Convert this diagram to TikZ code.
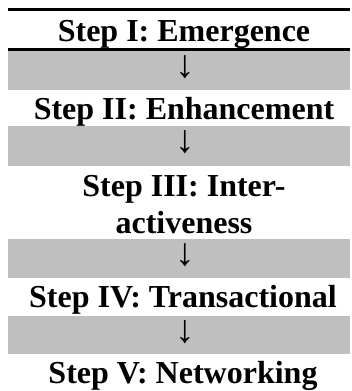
\documentclass[tikz,border=0pt]{standalone}
\usepackage{fontspec}
\setmainfont{Liberation Serif}
\definecolor{bandgray}{HTML}{BFBFBF}
\begin{document}
\begin{tikzpicture}[x=1pt,y=-1pt,
  band/.style={fill=bandgray,draw=none},
  rulebar/.style={fill=black,draw=none},
  steplabel/.style={anchor=base,inner sep=0pt,font=\fontsize{32}{37}\selectfont\bfseries},
  arrowlabel/.style={anchor=base,inner sep=0pt,text height=23pt,text depth=2pt,font=\fontsize{39}{44}\selectfont}]
\useasboundingbox (0,0) rectangle (351,391);
% rules and bands
\fill[rulebar] (8,8) rectangle (350,11);
\fill[rulebar] (8,48) rectangle (350,51);
\fill[band] (8,51) rectangle (350,90);
\fill[band] (8,126) rectangle (350,166);
\fill[band] (8,239) rectangle (350,278);
\fill[band] (8,316) rectangle (350,354);
% step labels
\node[steplabel] (s1) at (184,41) {Step I: Emergence};
\node[steplabel] (s2) at (184,119) {Step II: Enhancement};
\node[steplabel] (s3a) at (184,196) {Step III: Inter-};
\node[steplabel] (s3b) at (184,233) {activeness};
\node[steplabel] (s4) at (183,307) {Step IV: Transactional};
\node[steplabel] (s5) at (183,383) {Step V: Networking};
% arrows
\node[arrowlabel] (a1) at (185,77.5) {↓};
\node[arrowlabel] (a2) at (185,152.5) {↓};
\node[arrowlabel] (a3) at (185,265.5) {↓};
\node[arrowlabel] (a4) at (185,342.5) {↓};
\end{tikzpicture}
\end{document}
